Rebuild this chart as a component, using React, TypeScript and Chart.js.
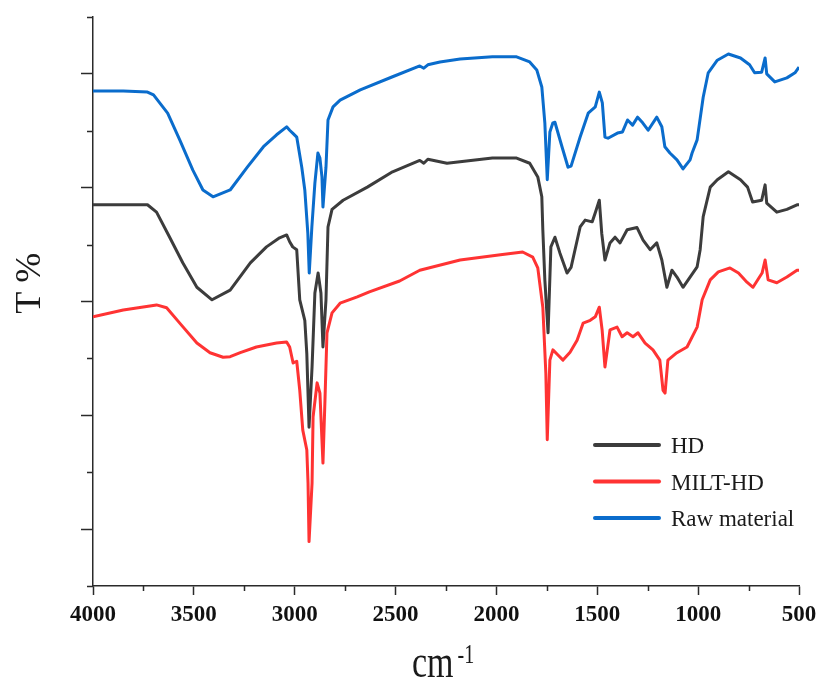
import React, { useEffect, useRef } from 'react';
import { Chart, registerables } from 'chart.js';

Chart.register(...registerables);

// ---- Data ----
const seriesLabels = ['HD', 'MILT-HD', 'Raw material'];
const seriesColors = ['#3c3c3c', '#ff3333', '#0a6ccc'];

const hdWavenumbers = [
  4000, 3730, 3685, 3620, 3555, 3485, 3410, 3320, 3220, 3140, 3075, 3040, 3025, 3010, 2990,
  2975, 2950, 2940, 2929, 2914, 2900, 2884, 2870, 2860, 2845, 2835, 2815, 2760, 2640, 2515,
  2380, 2360, 2340, 2245, 2020, 1900, 1835, 1795, 1775, 1770, 1760, 1750, 1744, 1730, 1710,
  1685, 1650, 1630, 1585, 1560, 1525, 1510, 1490, 1478, 1462, 1437, 1412, 1387, 1352, 1303,
  1273, 1238, 1205, 1180, 1155, 1130, 1105, 1075, 1040, 1005, 990, 975, 940, 905, 850,
  790, 755, 730, 685, 668, 660, 610, 560, 510, 500,
];
const hdValues = [
  67.0, 67.0, 65.7, 61.3, 56.8, 52.5, 50.3, 52.0, 56.8, 59.6, 61.2, 61.7, 60.5, 59.6, 59.1,
  50.3, 46.7, 40.8, 27.9, 38.5, 51.5, 55.0, 51.5, 42.0, 50.3, 63.1, 66.2, 67.8, 70.1, 72.8,
  74.8, 74.3, 75.0, 74.3, 75.2, 75.2, 74.3, 71.9, 68.4, 62.6, 53.8, 48.0, 44.5, 59.6, 61.3,
  58.5, 55.0, 56.0, 63.1, 64.3, 64.0, 65.6, 67.8, 62.0, 57.3, 60.3, 61.3, 60.3, 62.6, 63.0,
  60.8, 59.1, 60.3, 57.3, 52.5, 55.5, 54.3, 52.5, 54.3, 56.1, 59.1, 64.9, 70.1, 71.4, 72.8,
  71.4, 70.1, 67.5, 67.8, 70.5, 67.3, 65.7, 66.2, 67.0, 67.0,
];

const miltWavenumbers = [
  4000, 3850, 3685, 3635, 3570, 3485, 3420, 3355, 3320, 3270, 3190, 3090, 3040, 3025, 3008,
  2990, 2975, 2960, 2940, 2934, 2929, 2914, 2909, 2889, 2875, 2860, 2850, 2840, 2815, 2775,
  2690, 2630, 2480, 2380, 2180, 1980, 1870, 1820, 1795, 1770, 1755, 1748, 1735, 1720, 1695,
  1670, 1635, 1600, 1570, 1535, 1510, 1490, 1476, 1462, 1437, 1402, 1377, 1352, 1323, 1298,
  1263, 1224, 1190, 1174, 1164, 1150, 1105, 1055, 1005, 980, 940, 900, 842, 800, 758,
  728, 683, 668, 653, 610, 560, 510, 500,
];
const miltValues = [
  47.3, 48.5, 49.4, 48.9, 46.2, 42.7, 41.0, 40.2, 40.3, 41.0, 42.0, 42.7, 42.9, 42.0, 39.2,
  39.5, 34.4, 27.4, 23.9, 18.1, 7.8, 18.1, 29.7, 35.7, 33.9, 21.6, 32.7, 44.5, 48.0, 49.7,
  50.8, 51.7, 53.6, 55.5, 57.3, 58.2, 58.7, 57.8, 55.9, 49.0, 37.4, 25.7, 39.7, 41.5, 40.6,
  39.7, 41.1, 43.2, 46.2, 46.7, 47.3, 49.0, 45.0, 38.5, 45.0, 45.5, 43.8, 44.5, 43.8, 44.5,
  42.7, 41.5, 39.7, 34.4, 33.9, 39.7, 41.0, 42.0, 45.5, 50.3, 53.8, 55.2, 55.9, 55.0, 53.4,
  52.5, 55.0, 57.3, 53.8, 53.3, 54.3, 55.5, 55.5,
];

const rawWavenumbers = [
  4000, 3850, 3730, 3700, 3630, 3570, 3505, 3455, 3405, 3320, 3235, 3155, 3090, 3040, 3025,
  3010, 2990, 2965, 2950, 2935, 2928, 2915, 2900, 2885, 2875, 2865, 2860, 2845, 2835, 2810,
  2775, 2675, 2515, 2380, 2360, 2340, 2280, 2180, 2020, 1900, 1835, 1800, 1775, 1760, 1748,
  1735, 1720, 1710, 1675, 1645, 1630, 1585, 1545, 1510, 1490, 1475, 1462, 1447, 1400, 1375,
  1350, 1325, 1300, 1275, 1248, 1205, 1180, 1165, 1140, 1105, 1075, 1040, 1030, 1005, 975,
  950, 905, 850, 790, 745, 720, 685, 668, 660, 620, 560, 520, 500,
];
const rawValues = [
  87.0, 87.0, 86.8, 86.3, 83.1, 78.4, 73.1, 69.6, 68.4, 69.6, 73.6, 77.2, 79.3, 80.7, 80.1,
  79.6, 78.9, 73.6, 69.6, 62.0, 55.0, 63.1, 70.8, 76.1, 75.2, 71.9, 66.6, 73.6, 81.9, 84.2,
  85.4, 87.2, 89.5, 91.4, 91.0, 91.6, 92.1, 92.6, 93.0, 93.0, 92.1, 90.7, 87.7, 81.4, 71.4,
  79.8, 81.4, 81.5, 77.2, 73.6, 73.8, 78.9, 83.1, 84.2, 86.8, 84.9, 78.9, 78.7, 79.6, 79.8,
  81.9, 81.0, 82.4, 81.4, 80.1, 82.4, 80.7, 77.2, 76.1, 74.9, 73.3, 74.9, 76.1, 78.4, 85.9,
  90.2, 92.4, 93.5, 92.8, 91.6, 90.2, 90.3, 92.8, 90.0, 88.6, 89.3, 90.2, 91.2,
];

const xMajorTicks = [4000, 3500, 3000, 2500, 2000, 1500, 1000, 500];
const xMinorTicks = [3750, 3250, 2750, 2250, 1750, 1250, 750];
const yMajorTicks = [10, 30, 50, 70, 90];
const yMinorTicks = [0, 20, 40, 60, 80, 100];

const yTitleText = 'T %';
const xTitleText = 'cm';
const xTitleSup = '-1';

const SERIF = '"Liberation Serif", "Times New Roman", "DejaVu Serif", serif';
const AXIS_COLOR = '#2a2a2a';

function toPoints(xs: number[], ys: number[]) {
  return xs.map((x, i) => ({ x, y: ys[i] }));
}

const decorPlugin = {
  id: 'decor',
  afterDraw(chart: any) {
    const ctx: CanvasRenderingContext2D = chart.ctx;
    const xs = chart.scales.x;
    const ys = chart.scales.y;
    const area = chart.chartArea;
    ctx.save();
    // minor ticks
    ctx.strokeStyle = AXIS_COLOR;
    ctx.lineWidth = 1.5;
    ctx.beginPath();
    xMinorTicks.forEach((v) => {
      const px = Math.round(xs.getPixelForValue(v)) + 0.5;
      ctx.moveTo(px, area.bottom);
      ctx.lineTo(px, area.bottom + 5);
    });
    yMinorTicks.forEach((v) => {
      const py = Math.round(ys.getPixelForValue(v)) + 0.5;
      ctx.moveTo(area.left - 6, py);
      ctx.lineTo(area.left, py);
    });
    ctx.stroke();

    // y title
    ctx.fillStyle = '#1a1a1a';
    ctx.save();
    ctx.translate(area.left - 53, area.top + (area.bottom - area.top) * 0.468);
    ctx.rotate(-Math.PI / 2);
    ctx.font = `36px ${SERIF}`;
    ctx.textAlign = 'center';
    ctx.textBaseline = 'alphabetic';
    ctx.fillText(yTitleText, 0, 0);
    ctx.restore();

    // x title with superscript
    ctx.save();
    const cx = 412;
    const base = 677;
    ctx.translate(cx, base);
    ctx.scale(1, 1.35);
    ctx.font = `34px ${SERIF}`;
    ctx.textAlign = 'left';
    ctx.textBaseline = 'alphabetic';
    ctx.fillText(xTitleText, 0, 0);
    const w = ctx.measureText(xTitleText).width;
    ctx.font = `20px ${SERIF}`;
    ctx.fillText(xTitleSup, w + 4, -10.5);
    ctx.restore();

    // legend
    const lx = 595;
    const ly = 445;
    const gap = 36.5;
    chart.data.datasets.forEach((ds: any, i: number) => {
      const y = ly + i * gap;
      ctx.strokeStyle = ds.borderColor;
      ctx.lineWidth = 4;
      ctx.lineCap = 'round';
      ctx.beginPath();
      ctx.moveTo(lx, y);
      ctx.lineTo(lx + 64, y);
      ctx.stroke();
      ctx.fillStyle = '#1a1a1a';
      ctx.font = `23px ${SERIF}`;
      ctx.textAlign = 'left';
      ctx.textBaseline = 'middle';
      ctx.fillText(ds.label, lx + 76, y + 2);
    });
    ctx.restore();
  },
};

export default function App() {
  const canvasRef = useRef<HTMLCanvasElement | null>(null);

  useEffect(() => {
    const canvas = canvasRef.current;
    if (!canvas) return;
    const chart = new Chart(canvas, {
      type: 'line',
      data: {
        datasets: [
          { label: seriesLabels[0], data: toPoints(hdWavenumbers, hdValues), borderColor: seriesColors[0] },
          { label: seriesLabels[1], data: toPoints(miltWavenumbers, miltValues), borderColor: seriesColors[1] },
          { label: seriesLabels[2], data: toPoints(rawWavenumbers, rawValues), borderColor: seriesColors[2] },
        ],
      },
      options: {
        responsive: false,
        animation: false,
        parsing: false as any,
        normalized: true,
        layout: { padding: { top: 17, right: 22, left: 0, bottom: 0 } },
        elements: {
          point: { radius: 0 },
          line: { borderWidth: 3, tension: 0, fill: false, borderJoinStyle: 'round' },
        },
        plugins: {
          legend: { display: false },
          tooltip: { enabled: false },
          title: { display: false },
        },
        scales: {
          x: {
            type: 'linear',
            reverse: true,
            min: 500,
            max: 4000,
            afterBuildTicks: (s: any) => {
              s.ticks = xMajorTicks.map((v) => ({ value: v }));
            },
            afterFit: (s: any) => {
              s.height = 96;
              s.paddingLeft = 0;
              s.paddingRight = 0;
            },
            ticks: {
              autoSkip: false,
              maxRotation: 0,
              padding: 6,
              color: '#111',
              font: { family: SERIF, size: 23, weight: 'bold' },
              callback: (v: any) => String(v),
            },
            grid: {
              drawOnChartArea: false,
              drawTicks: true,
              tickLength: 9,
              tickColor: AXIS_COLOR,
              tickWidth: 1.5,
            },
            border: { display: true, color: AXIS_COLOR, width: 1.5 },
          },
          y: {
            type: 'linear',
            min: 0,
            max: 100,
            afterBuildTicks: (s: any) => {
              s.ticks = yMajorTicks.map((v) => ({ value: v }));
            },
            afterFit: (s: any) => {
              s.width = 93;
              s.paddingTop = 0;
              s.paddingBottom = 0;
            },
            ticks: { display: false },
            grid: {
              drawOnChartArea: false,
              drawTicks: true,
              tickLength: 12,
              tickColor: AXIS_COLOR,
              tickWidth: 1.5,
            },
            border: { display: true, color: AXIS_COLOR, width: 1.5 },
          },
        },
      },
      plugins: [decorPlugin],
    });
    return () => chart.destroy();
  }, []);

  return (
    <div style={{ position: 'absolute', left: 0, top: 0, width: 821, height: 682, background: '#fff' }}>
      <canvas ref={canvasRef} width={821} height={682} style={{ display: 'block', width: 821, height: 682 }} />
    </div>
  );
}
